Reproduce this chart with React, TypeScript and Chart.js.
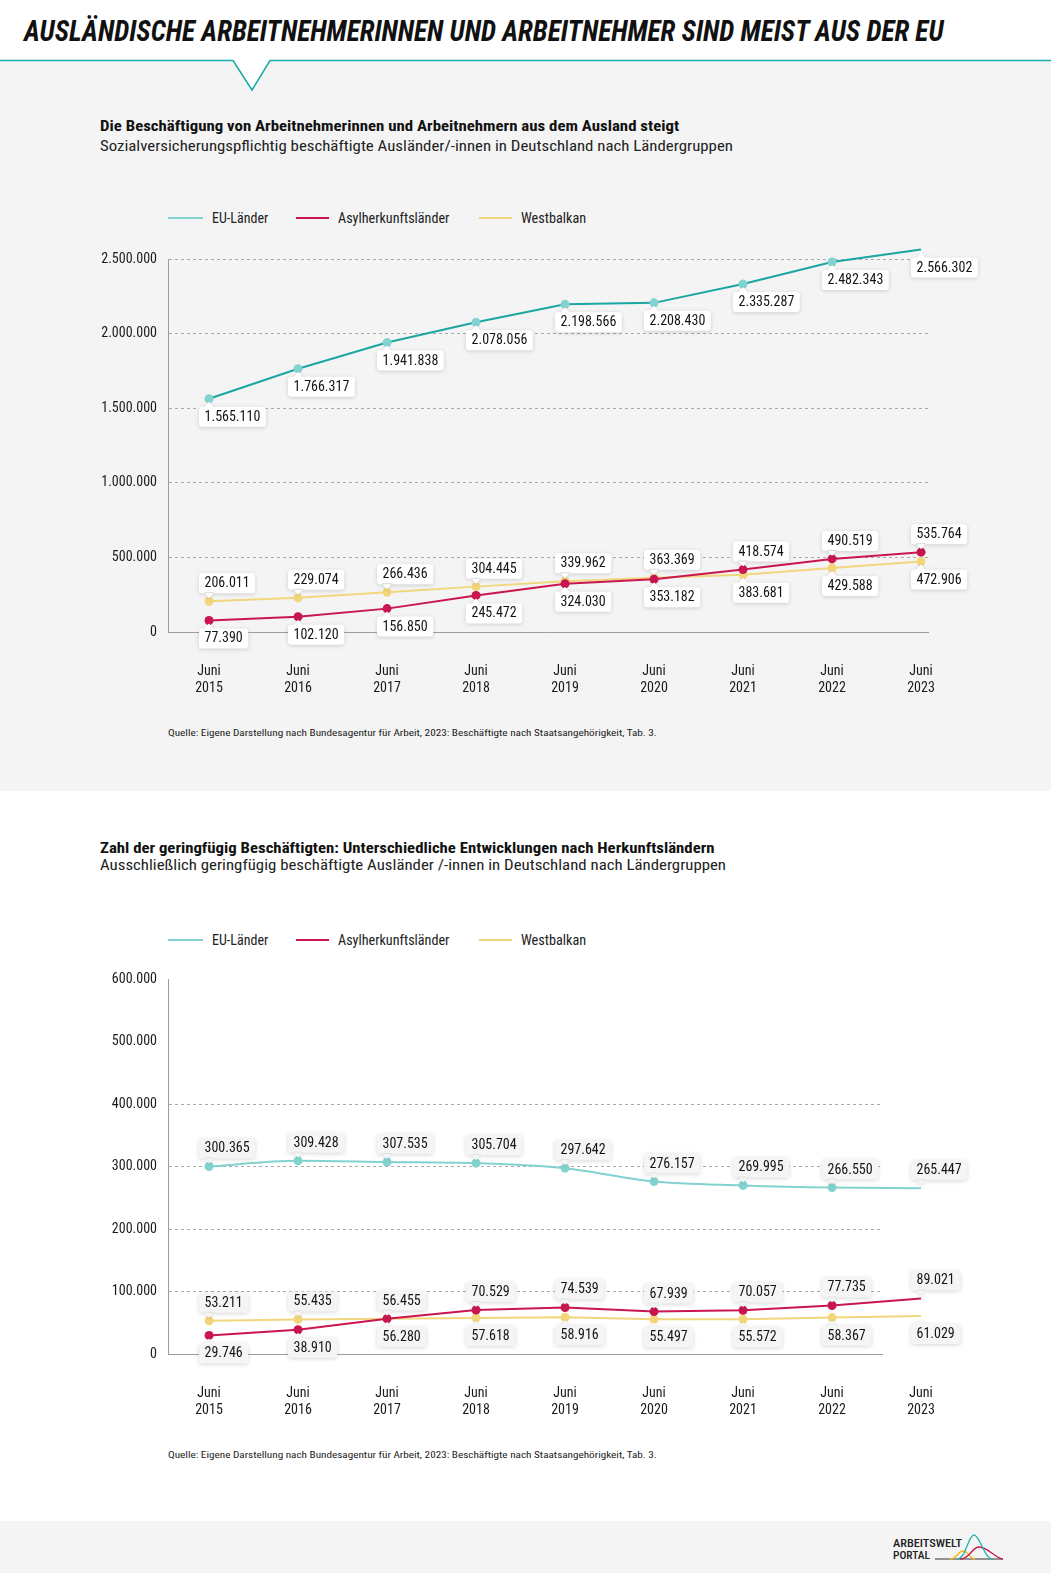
import React, { useEffect, useLayoutEffect, useRef, useState } from 'react';
import { Chart, registerables } from 'chart.js';

Chart.register(...registerables);

const FONT = '"Roboto Condensed", Roboto, "Noto Sans", sans-serif';

// ---------- data ----------
const years = ['2015', '2016', '2017', '2018', '2019', '2020', '2021', '2022', '2023'];
const tickPrefix = 'Juni';
const seriesNames = ['EU-Länder', 'Asylherkunftsländer', 'Westbalkan'];

const euEmployed = [1565110, 1766317, 1941838, 2078056, 2198566, 2208430, 2335287, 2482343, 2566302];
const asylEmployed = [77390, 102120, 156850, 245472, 324030, 353182, 418574, 490519, 535764];
const westEmployed = [206011, 229074, 266436, 304445, 339962, 363369, 383681, 429588, 472906];

const euMarginal = [300365, 309428, 307535, 305704, 297642, 276157, 269995, 266550, 265447];
const asylMarginal = [29746, 38910, 56455, 70529, 74539, 67939, 70057, 77735, 89021];
const westMarginal = [53211, 55435, 56280, 57618, 58916, 55497, 55572, 58367, 61029];

const yTicks1 = [0, 500000, 1000000, 1500000, 2000000, 2500000];
const yTicks2 = [0, 100000, 200000, 300000, 400000, 500000, 600000];

// label placement (a = above / b = below the point)
const euPos1 = ['b', 'b', 'b', 'b', 'b', 'b', 'b', 'b', 'b'];
const asylPos1 = ['b', 'b', 'b', 'b', 'b', 'b', 'a', 'a', 'a'];
const westPos1 = ['a', 'a', 'a', 'a', 'a', 'a', 'b', 'b', 'b'];
const euPos2 = ['a', 'a', 'a', 'a', 'a', 'a', 'a', 'a', 'a'];
const asylPos2 = ['b', 'b', 'a', 'a', 'a', 'a', 'a', 'a', 'a'];
const westPos2 = ['a', 'a', 'b', 'b', 'b', 'b', 'b', 'b', 'b'];

const TEAL_DARK = '#1aa6a1';
const TEAL = '#82d3cf';
const RED = '#c9164f';
const YELLOW = '#f1d67c';

const fmt = (v: number) => String(Math.round(v)).replace(/\B(?=(\d{3})+(?!\d))/g, '.');

const X_MIN = -0.461;

type Series = { values: number[]; line: string; point: string; pos: string[]; mono?: boolean };

function makeLabelPlugin(series: Series[], boxColor: string) {
  return {
    id: 'valueLabels',
    afterDatasetsDraw(chart: any) {
      const ctx: CanvasRenderingContext2D = chart.ctx;
      series.forEach((s, di) => {
        const meta = chart.getDatasetMeta(di);
        meta.data.forEach((pt: any, i: number) => {
          const text = fmt(s.values[i]);
          ctx.save();
          ctx.font = `400 14px ${FONT}`;
          const tw = ctx.measureText(text).width;
          const w = tw + 11;
          const h = 20;
          const r = 3;
          const left = pt.x - 10;
          const above = s.pos[i] === 'a';
          const top = above ? pt.y - 8 - h : pt.y + 8;
          ctx.beginPath();
          ctx.moveTo(left + r, top);
          ctx.lineTo(left + w - r, top);
          ctx.quadraticCurveTo(left + w, top, left + w, top + r);
          ctx.lineTo(left + w, top + h - r);
          ctx.quadraticCurveTo(left + w, top + h, left + w - r, top + h);
          ctx.lineTo(left + r, top + h);
          ctx.quadraticCurveTo(left, top + h, left, top + h - r);
          ctx.lineTo(left, top + r);
          ctx.quadraticCurveTo(left, top, left + r, top);
          ctx.closePath();
          if (above) {
            ctx.moveTo(pt.x - 5, top + h - 1);
            ctx.lineTo(pt.x, pt.y - 3);
            ctx.lineTo(pt.x + 5, top + h - 1);
          } else {
            ctx.moveTo(pt.x - 5, top + 1);
            ctx.lineTo(pt.x, pt.y + 3);
            ctx.lineTo(pt.x + 5, top + 1);
          }
          ctx.closePath();
          ctx.shadowColor = 'rgba(0,0,0,0.16)';
          ctx.shadowBlur = 4;
          ctx.shadowOffsetY = 1;
          ctx.fillStyle = boxColor;
          ctx.fill();
          ctx.shadowColor = 'rgba(0,0,0,0)';
          ctx.fillStyle = '#141414';
          ctx.textBaseline = 'middle';
          ctx.textAlign = 'left';
          ctx.fillText(text, left + 5.5, top + h / 2 + 0.5);
          ctx.restore();
        });
      });
    },
  };
}

type ChartProps = {
  top: number;
  height: number;
  padTop: number;
  padRight: number;
  axisHeight: number;
  yMax: number;
  yTicks: number[];
  gridMax: number;
  xMax: number;
  series: Series[];
  boxColor: string;
};

function LineChart(p: ChartProps) {
  const ref = useRef<HTMLCanvasElement>(null);
  useEffect(() => {
    const chart = new Chart(ref.current as HTMLCanvasElement, {
      type: 'line',
      data: {
        datasets: p.series.map((s, k) => ({
          label: seriesNames[k],
          data: s.values.map((v, i) => ({ x: i, y: v })),
          borderColor: s.line,
          backgroundColor: s.point,
          pointBackgroundColor: s.point,
          pointBorderWidth: 0,
          pointRadius: 4.5,
          borderWidth: 2,
          tension: 0,
          cubicInterpolationMode: s.mono ? 'monotone' : 'default',
          clip: false,
          fill: false,
        })),
      } as any,
      options: {
        responsive: false,
        animation: false,
        events: [],
        layout: { padding: { top: p.padTop, right: p.padRight, left: 0, bottom: 0 } },
        plugins: { legend: { display: false }, tooltip: { enabled: false } },
        scales: {
          x: {
            type: 'linear',
            min: X_MIN,
            max: p.xMax,
            afterBuildTicks: (s: any) => {
              s.ticks = years.map((_, i) => ({ value: i }));
            },
            afterFit: (s: any) => {
              s.height = p.axisHeight;
            },
            grid: { display: false },
            border: { display: true, color: '#9d9d9d', width: 1 },
            ticks: {
              autoSkip: false,
              maxRotation: 0,
              padding: 23,
              color: '#1a1a1a',
              font: { family: FONT, size: 14, lineHeight: 1.2 },
              callback: (v: any) => [tickPrefix, years[Math.round(Number(v))]],
            },
          },
          y: {
            min: 0,
            max: p.yMax,
            afterBuildTicks: (s: any) => {
              s.ticks = p.yTicks.map((v) => ({ value: v }));
            },
            afterFit: (s: any) => {
              s.width = 168;
            },
            grid: {
              drawTicks: false,
              lineWidth: 1,
              color: (c: any) =>
                c.tick && (c.tick.value === 0 || c.tick.value > p.gridMax) ? 'rgba(0,0,0,0)' : '#ababab',
            },
            border: { display: true, color: '#9d9d9d', width: 1, dash: [3, 3] },
            ticks: {
              padding: 11,
              color: '#1a1a1a',
              font: { family: FONT, size: 14 },
              callback: (v: any) => fmt(Number(v)),
            },
          },
        },
      } as any,
      plugins: [makeLabelPlugin(p.series, p.boxColor)],
    });
    return () => chart.destroy();
  }, []);
  return (
    <canvas
      ref={ref}
      width={1051}
      height={p.height}
      style={{ position: 'absolute', left: 0, top: p.top, width: 1051, height: p.height }}
    />
  );
}

type FitProps = {
  text: string;
  left: number;
  cy: number;
  width: number;
  size: number;
  weight?: number;
  italic?: boolean;
  color?: string;
};

function FitText({ text, left, cy, width, size, weight = 400, italic = false, color = '#1a1a1a' }: FitProps) {
  const ref = useRef<HTMLSpanElement>(null);
  const [scale, setScale] = useState(1);
  useLayoutEffect(() => {
    if (ref.current) {
      const w = ref.current.offsetWidth;
      if (w > 0) setScale(width / w);
    }
  }, [text, width]);
  const lh = Math.round(size * 1.25);
  return (
    <span
      ref={ref}
      style={{
        position: 'absolute',
        left,
        top: cy - lh / 2,
        lineHeight: lh + 'px',
        fontSize: size,
        fontFamily: FONT,
        fontWeight: weight,
        fontStyle: italic ? 'italic' : 'normal',
        whiteSpace: 'nowrap',
        transform: `scaleX(${scale})`,
        transformOrigin: '0 50%',
        color,
        display: 'inline-block',
      }}
    >
      {text}
    </span>
  );
}

function Legend({ cy }: { cy: number }) {
  const items = [
    { x1: 168, x2: 203, tx: 212, tw: 56, color: TEAL, label: seriesNames[0] },
    { x1: 296, x2: 329, tx: 338, tw: 111, color: RED, label: seriesNames[1] },
    { x1: 479, x2: 512, tx: 521, tw: 65, color: YELLOW, label: seriesNames[2] },
  ];
  return (
    <>
      {items.map((it) => (
        <React.Fragment key={it.label}>
          <div
            style={{
              position: 'absolute',
              left: it.x1,
              top: cy - 1,
              width: it.x2 - it.x1,
              height: 2,
              background: it.color,
            }}
          />
          <FitText text={it.label} left={it.tx} cy={cy} width={it.tw} size={14} color="#222" />
        </React.Fragment>
      ))}
    </>
  );
}

const source = 'Quelle: Eigene Darstellung nach Bundesagentur für Arbeit, 2023: Beschäftigte nach Staatsangehörigkeit, Tab. 3.';

export default function App() {
  const series1: Series[] = [
    { values: euEmployed, line: TEAL_DARK, point: TEAL, pos: euPos1 },
    { values: asylEmployed, line: RED, point: RED, pos: asylPos1 },
    { values: westEmployed, line: YELLOW, point: YELLOW, pos: westPos1 },
  ];
  const series2: Series[] = [
    { values: euMarginal, line: TEAL, point: TEAL, pos: euPos2, mono: true },
    { values: asylMarginal, line: RED, point: RED, pos: asylPos2 },
    { values: westMarginal, line: YELLOW, point: YELLOW, pos: westPos2 },
  ];
  return (
    <div style={{ position: 'relative', width: 1051, height: 1573, background: '#fff', overflow: 'hidden' }}>
      <style>{'body{margin:0}'}</style>
      <div style={{ position: 'absolute', left: 0, top: 61, width: 1051, height: 730, background: '#f4f4f4' }} />
      <div style={{ position: 'absolute', left: 0, top: 1521, width: 1051, height: 52, background: '#f4f4f4' }} />
      <svg style={{ position: 'absolute', left: 0, top: 0 }} width={1051} height={100}>
        <polygon points="233,60 252,90 270,60" fill="#fff" />
        <polyline
          points="0,60.5 233,60.5 252,90 270,60.5 1051,60.5"
          fill="none"
          stroke="#19a9a6"
          strokeWidth={1.5}
        />
      </svg>

      <FitText
        text="AUSLÄNDISCHE ARBEITNEHMERINNEN UND ARBEITNEHMER SIND MEIST AUS DER EU"
        left={24}
        cy={31}
        width={920}
        size={29}
        weight={700}
        italic
        color="#111"
      />

      <FitText
        text="Die Beschäftigung von Arbeitnehmerinnen und Arbeitnehmern aus dem Ausland steigt"
        left={100}
        cy={126}
        width={579}
        size={15}
        weight={700}
        color="#111"
      />
      <FitText
        text="Sozialversicherungspflichtig beschäftigte Ausländer/-innen in Deutschland nach Ländergruppen"
        left={100}
        cy={146}
        width={633}
        size={15.5}
        color="#222"
      />
      <Legend cy={218} />
      <LineChart
        top={240}
        height={470}
        padTop={17}
        padRight={1051 - 928}
        axisHeight={78}
        yMax={2500000}
        yTicks={yTicks1}
        gridMax={2500000}
        xMax={(928 - 168) / 89 + X_MIN}
        series={series1}
        boxColor="#ffffff"
      />
      <FitText text={source} left={168} cy={733} width={489} size={9.5} color="#222" />

      <FitText
        text="Zahl der geringfügig Beschäftigten: Unterschiedliche Entwicklungen nach Herkunftsländern"
        left={100}
        cy={848}
        width={614}
        size={15}
        weight={700}
        color="#111"
      />
      <FitText
        text="Ausschließlich geringfügig beschäftigte Ausländer /-innen in Deutschland nach Ländergruppen"
        left={100}
        cy={865}
        width={626}
        size={15.5}
        color="#222"
      />
      <Legend cy={940} />
      <LineChart
        top={960}
        height={470}
        padTop={18}
        padRight={1051 - 882}
        axisHeight={76}
        yMax={600000}
        yTicks={yTicks2}
        gridMax={400000}
        xMax={(882 - 168) / 89 + X_MIN}
        series={series2}
        boxColor="#f5f5f5"
      />
      <FitText text={source} left={168} cy={1455} width={489} size={9.5} color="#222" />

      <svg style={{ position: 'absolute', left: 880, top: 1525 }} width={130} height={42}>
        <text x={13} y={22} fontFamily={FONT} fontSize={11} fontWeight={500} fill="#222" textLength={69} lengthAdjust="spacingAndGlyphs">
          ARBEITSWELT
        </text>
        <text x={13} y={34} fontFamily={FONT} fontSize={11} fontWeight={500} fill="#222" textLength={37} lengthAdjust="spacingAndGlyphs">
          PORTAL
        </text>
        <line x1={55} y1={34} x2={123} y2={34} stroke="#333" strokeWidth={1} />
        <path d="M70,34 C77,34 78,26 83,26 C88,26 90,34 95,34" fill="none" stroke="#f3b81c" strokeWidth={1.3} />
        <path d="M80,34 C90,34 92,22 99,22 C108,22 116,34 123,34" fill="none" stroke={RED} strokeWidth={1.3} />
        <path d="M77,34 C86,34 88,10 94,10 C100,10 104,34 113,34" fill="none" stroke="#22b3ad" strokeWidth={1.3} />
      </svg>
    </div>
  );
}
